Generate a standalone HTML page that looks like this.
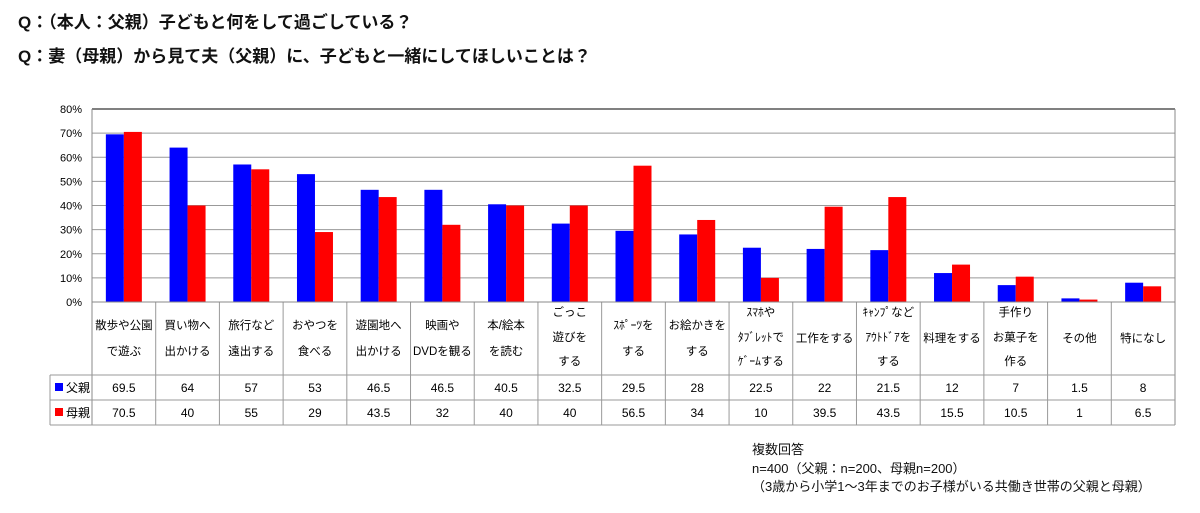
<!DOCTYPE html>
<html><head><meta charset="utf-8"><style>
body{margin:0;background:#fff;width:1200px;height:513px;overflow:hidden;font-family:"Liberation Sans","Noto Sans CJK JP",sans-serif}
.t{position:absolute;left:18px;font-weight:bold;font-size:17px;color:#111}
.n{position:absolute;left:752px;font-size:13px;color:#111;line-height:18.5px}
</style></head><body>
<div class="t" style="top:8px">Q：（本人：父親）子どもと何をして過ごしている？</div>
<div class="t" style="top:42px">Q：妻（母親）から見て夫（父親）に、子どもと一緒にしてほしいことは？</div>
<svg id="s" width="1200" height="513" style="position:absolute;left:0;top:0"></svg>
<div class="n" style="top:441px">複数回答<br>n=400（父親：n=200、母親n=200）<br>（3歳から小学1～3年までのお子様がいる共働き世帯の父親と母親）</div>
<script>
const L=[["散歩や公園","で遊ぶ"],["買い物へ","出かける"],["旅行など","遠出する"],["おやつを","食べる"],["遊園地へ","出かける"],["映画や","DVDを観る"],["本/絵本","を読む"],["ごっこ","遊びを","する"],["ｽﾎﾟｰﾂを","する"],["お絵かきを","する"],["ｽﾏﾎや","ﾀﾌﾞﾚｯﾄで","ｹﾞｰﾑする"],["工作をする"],["ｷｬﾝﾌﾟなど","ｱｳﾄﾄﾞｱを","する"],["料理をする"],["手作り","お菓子を","作る"],["その他"],["特になし"]];
L.splice(15,0);
const F=[69.5,64,57,53,46.5,46.5,40.5,32.5,29.5,28,22.5,22,21.5,12,7,1.5,8];
const M=[70.5,40,55,29,43.5,32,40,40,56.5,34,10,39.5,43.5,15.5,10.5,1,6.5];
const x0=92,x1=1175,y0=302,yt=109,n=17,w=(x1-x0)/n,h=(y0-yt)/80;
let s='';
for(let i=0;i<=8;i++){let y=y0-i*10*h;s+=`<line x1="${x0}" x2="${x1}" y1="${y}" y2="${y}" stroke="${i==8?'#000':'#999'}" stroke-width="1"/><text x="82" y="${y+4}" font-size="11" text-anchor="end">${i*10}%</text>`;}
for(let i=0;i<n;i++){let cx=x0+w*i+w/2;
s+=`<rect x="${cx-18}" y="${y0-F[i]*h}" width="18" height="${F[i]*h}" fill="#0000ff"/><rect x="${cx}" y="${y0-M[i]*h}" width="18" height="${M[i]*h}" fill="#ff0000"/>`;
let l=L[i],ys=l.length==3?[312,337,361]:l.length==2?[325,351]:[338];
l.forEach((t,j)=>s+=`<text x="${cx}" y="${ys[j]+4}" font-size="11.5" text-anchor="middle">${t}</text>`);
s+=`<text x="${cx}" y="${392}" font-size="12" text-anchor="middle">${F[i]}</text><text x="${cx}" y="${417}" font-size="12" text-anchor="middle">${M[i]}</text>`;}
s+=`<line x1="${x0}" y1="${yt}" x2="${x0}" y2="425" stroke="#888"/><line x1="${x1}" y1="${yt}" x2="${x1}" y2="425" stroke="#888"/>`;
for(let i=1;i<n;i++){let x=x0+w*i;s+=`<line x1="${x}" x2="${x}" y1="302" y2="425" stroke="#999"/>`;}
s+=`<line x1="${x0}" x2="${x1}" y1="302" y2="302" stroke="#888"/>`;
[375,400,425].forEach(y=>s+=`<line x1="50" x2="${x1}" y1="${y}" y2="${y}" stroke="#999"/>`);
s+=`<line x1="50" x2="50" y1="375" y2="425" stroke="#999"/>`;
s+=`<rect x="55" y="383" width="8" height="8" fill="#0000ff"/><text x="66" y="392" font-size="12">父親</text><rect x="55" y="408" width="8" height="8" fill="#ff0000"/><text x="66" y="417" font-size="12">母親</text>`;
document.getElementById('s').innerHTML=s;
</script>
</body></html>
